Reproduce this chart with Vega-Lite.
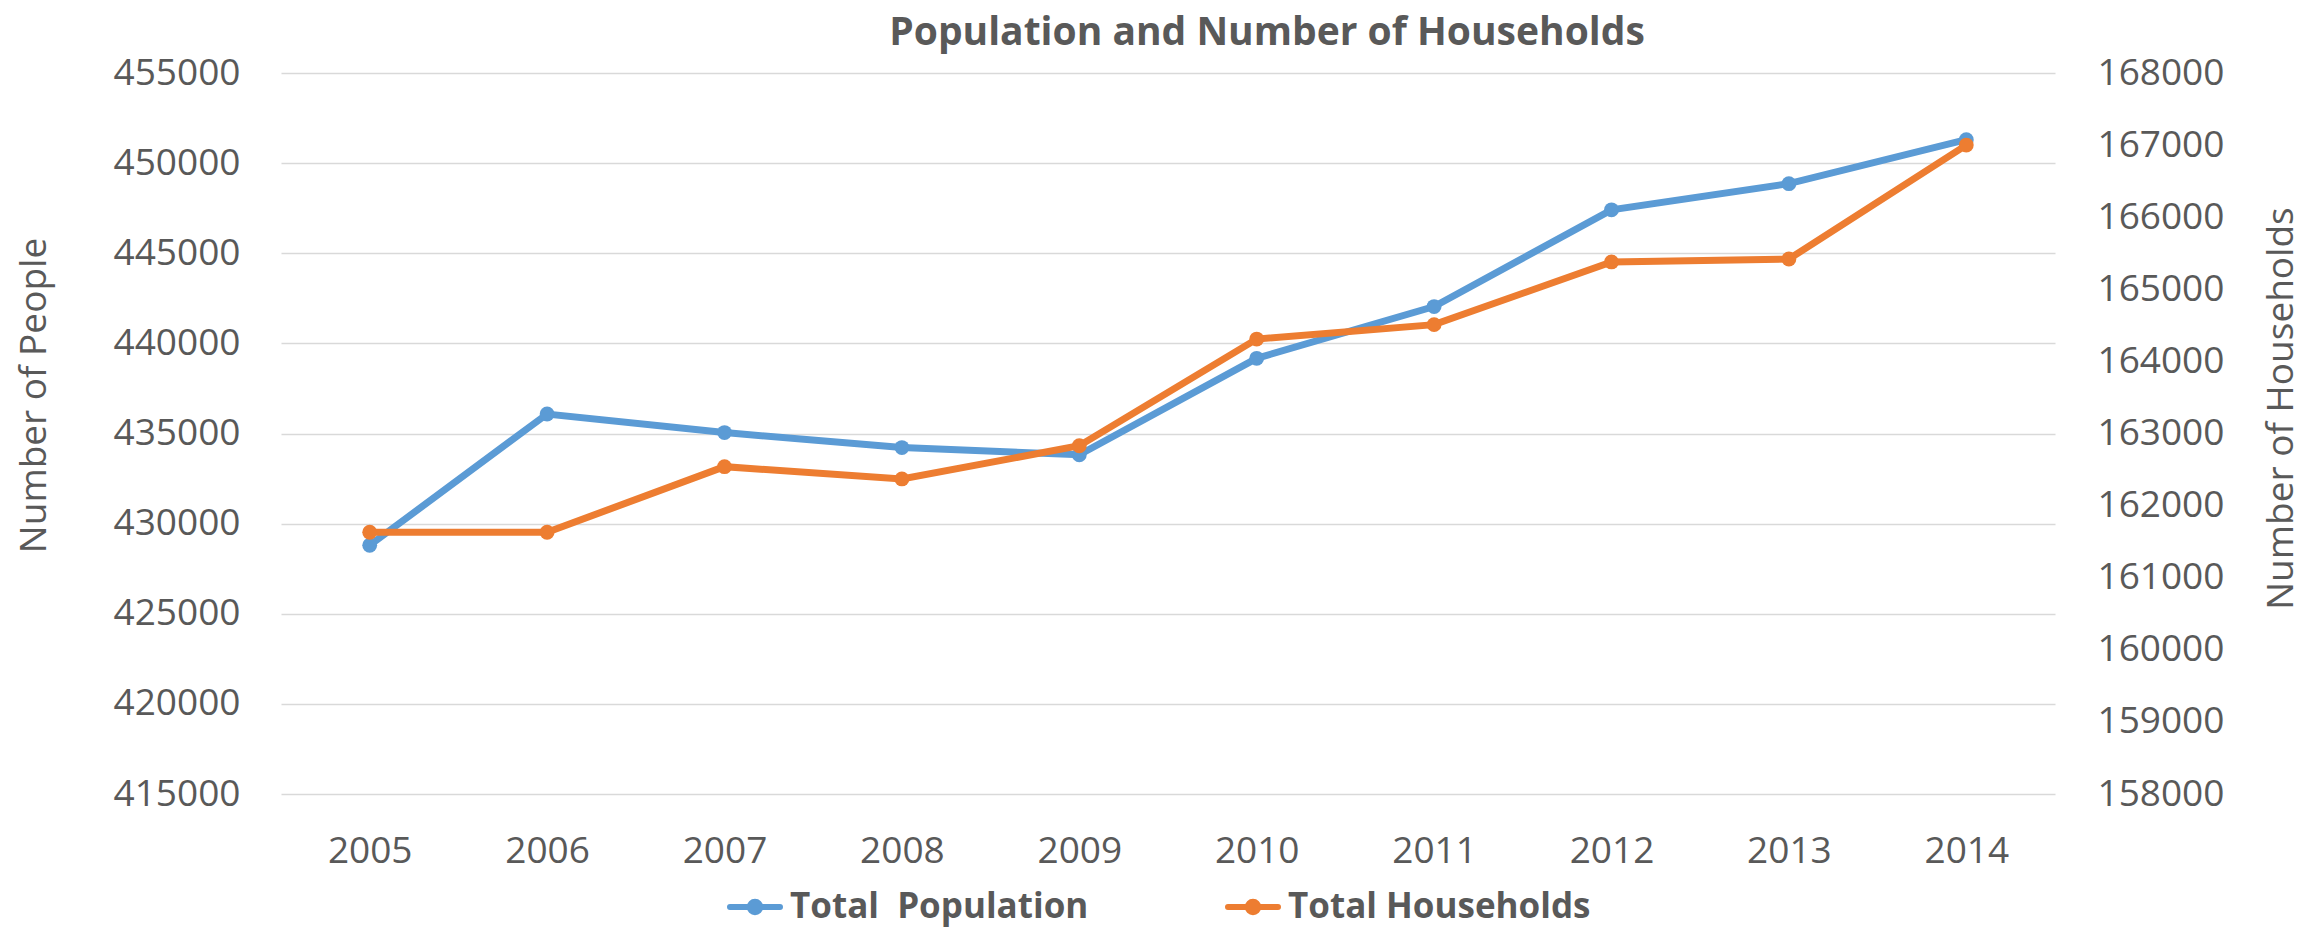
{
  "$schema": "https://vega.github.io/schema/vega-lite/v6.json",
  "autosize": {"type": "none"},
  "width": 1774,
  "height": 721,
  "padding": {"left": 281, "top": 73, "right": 263, "bottom": 133},
  "background": "white",
  "title": {
    "text": "Population and Number of Households",
    "font": "Open Sans",
    "fontSize": 39,
    "fontWeight": "bold",
    "color": "#595959",
    "frame": "group",
    "anchor": "middle",
    "dx": 99,
    "dy": 61,
    "baseline": "alphabetic",
    "offset": 31
  },
  "data": {
    "values": [
      {"year": "2005", "population": 428800, "households": 161630},
      {"year": "2006", "population": 436080, "households": 161630},
      {"year": "2007", "population": 435050, "households": 162540},
      {"year": "2008", "population": 434220, "households": 162370},
      {"year": "2009", "population": 433820, "households": 162830},
      {"year": "2010", "population": 439170, "households": 164310},
      {"year": "2011", "population": 442040, "households": 164510},
      {"year": "2012", "population": 447410, "households": 165380},
      {"year": "2013", "population": 448860, "households": 165420},
      {"year": "2014", "population": 451300, "households": 167000}
    ]
  },
  "encoding": {
    "x": {
      "field": "year",
      "type": "ordinal",
      "scale": {"type": "point", "padding": 0.5},
      "axis": {
        "title": null,
        "labelAngle": 0,
        "labelFont": "Open Sans",
        "labelFontSize": 37,
        "labelColor": "#595959",
        "labelBaseline": "middle",
        "labelPadding": 57,
        "ticks": false,
        "domain": false,
        "grid": false
      }
    }
  },
  "layer": [
    {
      "mark": {"type": "line", "strokeWidth": 7, "point": {"filled": true, "size": 220, "opacity": 1}},
      "encoding": {
        "y": {
          "field": "population",
          "type": "quantitative",
          "scale": {"domain": [415000, 455000], "nice": false, "zero": false},
          "axis": {
            "orient": "left",
            "title": "Number of People",
            "titleFont": "Open Sans",
            "titleFontSize": 37,
            "titleFontWeight": "normal",
            "titleColor": "#595959",
            "titleAngle": -90,
            "titleAlign": "center",
            "titleBaseline": "alphabetic",
            "titleX": -236,
            "titleY": 322,
            "values": [415000, 420000, 425000, 430000, 435000, 440000, 445000, 450000, 455000],
            "format": "d",
            "labelFont": "Open Sans",
            "labelFontSize": 37,
            "labelColor": "#595959",
            "labelPadding": 41,
            "ticks": false,
            "domain": false,
            "grid": true,
            "gridColor": "#d9d9d9",
            "gridWidth": 1.5
          }
        },
        "color": {
          "datum": "Total\u00a0 Population",
          "type": "nominal",
          "scale": {"domain": ["Total\u00a0 Population", "Total Households"], "range": ["#5b9bd5", "#ed7d31"]},
          "legend": {
            "title": null,
            "orient": "none",
            "direction": "horizontal",
            "columns": 2,
            "legendX": 446,
            "legendY": 806,
            "padding": 0,
            "symbolType": "M-1,0H1M0.21,0A0.21,0.21,0,1,1,-0.21,0A0.21,0.21,0,1,1,0.21,0Z",
            "symbolSize": 2500,
            "symbolStrokeWidth": 6,
            "symbolOpacity": 1,
            "labelFont": "Open Sans",
            "labelFontSize": 35,
            "labelFontWeight": "bold",
            "labelColor": "#595959",
            "labelOffset": 7,
            "labelLimit": 0,
            "columnPadding": 127,
            "encode": {
              "symbols": {
                "update": {
                  "fill": {"scale": "color", "field": "value"},
                  "stroke": {"scale": "color", "field": "value"},
                  "strokeWidth": {"value": 6},
                  "strokeCap": {"value": "round"},
                  "opacity": {"value": 1}
                }
              }
            }
          }
        }
      }
    },
    {
      "mark": {"type": "line", "strokeWidth": 7, "point": {"filled": true, "size": 220, "opacity": 1}},
      "encoding": {
        "y": {
          "field": "households",
          "type": "quantitative",
          "scale": {"domain": [158000, 168000], "nice": false, "zero": false},
          "axis": {
            "orient": "right",
            "title": "Number of Households",
            "titleFont": "Open Sans",
            "titleFontSize": 37,
            "titleFontWeight": "normal",
            "titleColor": "#595959",
            "titleAngle": 270,
            "titleAlign": "center",
            "titleBaseline": "alphabetic",
            "titleX": 237,
            "titleY": 335,
            "values": [158000, 159000, 160000, 161000, 162000, 163000, 164000, 165000, 166000, 167000, 168000],
            "format": "d",
            "labelFont": "Open Sans",
            "labelFontSize": 37,
            "labelColor": "#595959",
            "labelPadding": 42,
            "ticks": false,
            "domain": false,
            "grid": false
          }
        },
        "color": {
          "datum": "Total Households",
          "type": "nominal"
        }
      }
    }
  ],
  "resolve": {"scale": {"y": "independent"}},
  "config": {
    "view": {"stroke": null}
  }
}
